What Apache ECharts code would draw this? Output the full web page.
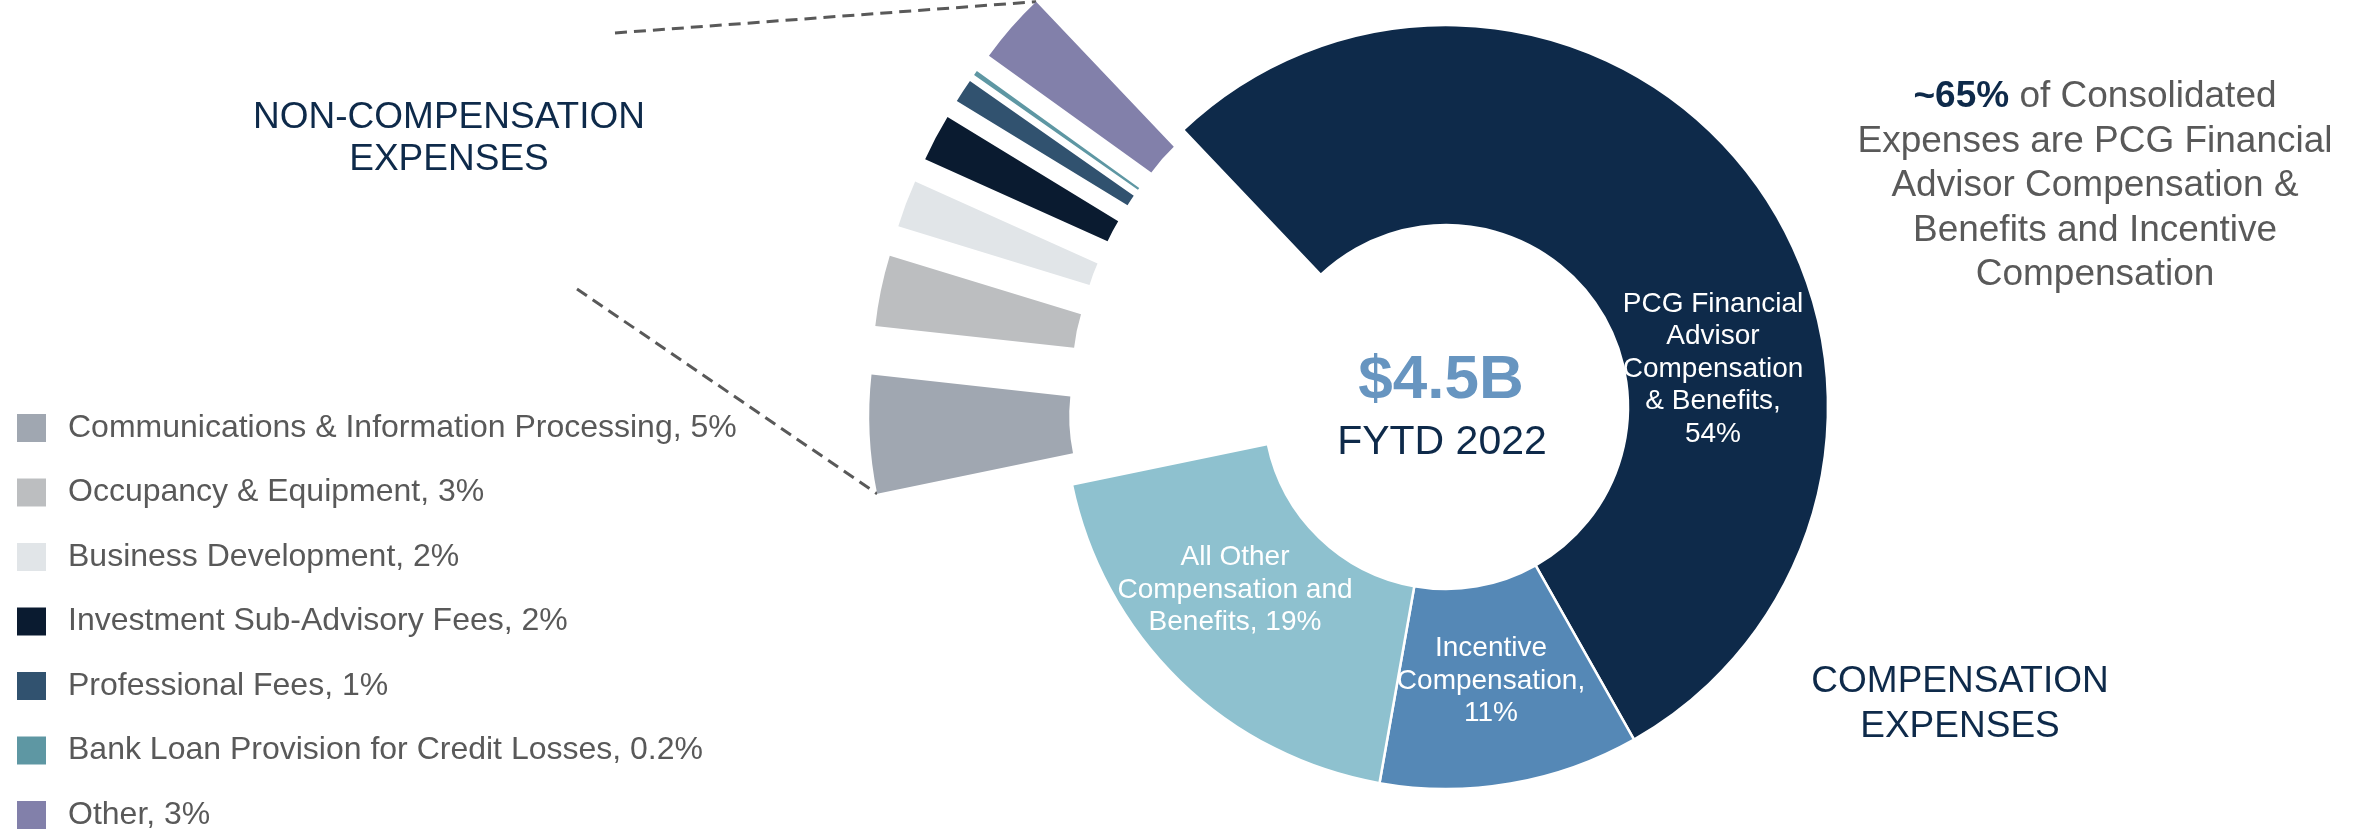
<!DOCTYPE html>
<html>
<head>
<meta charset="utf-8">
<script src="https://cdn.jsdelivr.net/npm/echarts@6/dist/echarts.min.js"></script>
<style>
  html, body { margin: 0; padding: 0; background: #ffffff; }
  #chart { width: 2364px; height: 829px; }
</style>
</head>
<body>
<div id="chart"></div>
<script>
// FYTD 2022 expense mix (% of consolidated expenses)
const categories = [
  'PCG Financial Advisor Compensation & Benefits',
  'Incentive Compensation',
  'All Other Compensation and Benefits',
  'Communications & Information Processing',
  'Occupancy & Equipment',
  'Business Development',
  'Investment Sub-Advisory Fees',
  'Professional Fees',
  'Bank Loan Provision for Credit Losses',
  'Other'
];
const values = [54, 11, 19, 5, 3, 2, 2, 1, 0.2, 3];
const compensationCount = 3;   // first three categories are compensation
const sliceLabels = [
  'PCG Financial\nAdvisor\nCompensation\n& Benefits,\n{v}%',
  'Incentive\nCompensation,\n{v}%',
  'All Other\nCompensation and\nBenefits, {v}%'
];
const colors = ['#0E2A4A', '#5588B6', '#8EC1CF', '#A0A7B1', '#BCBEC0',
                '#E1E5E8', '#0A1B30', '#31526F', '#5E97A3', '#8280AA'];

// ---- layout ----
const FONT = '"Liberation Sans", Arial, Helvetica, sans-serif';
const NAVY = '#0E2A4A';
const GRAY = '#595959';
const CX = 1446, CY = 407, R0 = 182, R1 = 382;
const START = 133.5;      // degrees, counter-clockwise from 3 o'clock
const EXPLODE = 195;      // pull-out distance of the non-compensation slices
const labelSpots = [[1713, 369], [1491, 681], [1235, 590]];

const total = values.reduce((a, b) => a + b, 0);

// start / end angle of slice i (ECharts convention, clockwise layout)
function sliceSpan(i) {
  let a = START;
  for (let k = 0; k < i; k++) a -= values[k] / total * 360;
  return [a, a - values[i] / total * 360];
}
// point on a pulled-out slice at the given angle and radius
function explodedPoint(i, angle, r) {
  const [a0, a1] = sliceSpan(i);
  const mid = (a0 + a1) / 2 * Math.PI / 180;
  const t = angle * Math.PI / 180;
  return [CX + EXPLODE * Math.cos(mid) + r * Math.cos(t),
          CY - EXPLODE * Math.sin(mid) - r * Math.sin(t)];
}

const pieData = categories.map((name, i) => {
  const comp = i < compensationCount;
  return {
    name: name,
    value: values[i],
    selected: !comp,
    itemStyle: {
      color: colors[i],
      borderColor: '#ffffff',
      borderWidth: comp ? 2.5 : 0
    },
    label: { show: comp }
  };
});

const otherIdx = categories.length - 1;
const commsIdx = compensationCount;
const topEnd = explodedPoint(otherIdx, sliceSpan(otherIdx)[1], R1);
const bottomEnd = explodedPoint(commsIdx, sliceSpan(commsIdx)[0], R1);

const chart = echarts.init(document.getElementById('chart'), null, { renderer: 'canvas' });

chart.setOption({
  animation: false,
  backgroundColor: '#ffffff',
  legend: {
    data: categories.slice(compensationCount),
    orient: 'vertical',
    left: 17,
    top: 412,
    height: 460,
    padding: 0,
    icon: 'rect',
    itemWidth: 29,
    itemHeight: 28,
    itemGap: 32.5,
    selectedMode: false,
    formatter: name => name + ', ' + values[categories.indexOf(name)] + '%',
    textStyle: {
      fontFamily: FONT,
      fontSize: 32,
      color: GRAY,
      lineHeight: 28,
      padding: [0, 0, 0, 17]
    }
  },
  series: [{
    type: 'pie',
    center: [CX, CY],
    radius: [R0, R1],
    startAngle: START,
    clockwise: true,
    selectedMode: 'multiple',
    selectedOffset: EXPLODE,
    avoidLabelOverlap: false,
    emphasis: { disabled: true },
    labelLine: { show: false },
    label: {
      position: 'inside',
      color: '#ffffff',
      fontFamily: FONT,
      fontSize: 28,
      lineHeight: 32.5,
      formatter: p => p.dataIndex < compensationCount
        ? sliceLabels[p.dataIndex].replace('{v}', p.value) : ''
    },
    labelLayout: params => {
      const s = labelSpots[params.dataIndex];
      return s ? { x: s[0], y: s[1], align: 'center', verticalAlign: 'middle' } : {};
    },
    data: pieData
  }],
  graphic: [
    {
      type: 'text', x: 1441, y: 381,
      style: {
        text: '$4.5B', fontFamily: FONT, fontSize: 62, fontWeight: 'bold',
        fill: '#6795C0', align: 'center', verticalAlign: 'middle',
        textAlign: 'center', textVerticalAlign: 'middle'
      }
    },
    {
      type: 'text', x: 1442, y: 443,
      style: {
        text: 'FYTD 2022', fontFamily: FONT, fontSize: 41,
        fill: NAVY, align: 'center', verticalAlign: 'middle',
        textAlign: 'center', textVerticalAlign: 'middle'
      }
    },
    {
      type: 'text', x: 449, y: 139,
      style: {
        text: 'NON-COMPENSATION\nEXPENSES', fontFamily: FONT, fontSize: 37,
        lineHeight: 42.5, fill: NAVY, align: 'center', verticalAlign: 'middle',
        textAlign: 'center', textVerticalAlign: 'middle'
      }
    },
    {
      type: 'text', x: 1960, y: 704,
      style: {
        text: 'COMPENSATION\nEXPENSES', fontFamily: FONT, fontSize: 37,
        lineHeight: 45, fill: NAVY, align: 'center', verticalAlign: 'middle',
        textAlign: 'center', textVerticalAlign: 'middle'
      }
    },
    {
      type: 'text', x: 2095, y: 186,
      style: {
        text: '{b|~65%} of Consolidated\nExpenses are PCG Financial\nAdvisor Compensation &\nBenefits and Incentive\nCompensation',
        fontFamily: FONT, fontSize: 37, lineHeight: 44.5, fill: GRAY,
        align: 'center', verticalAlign: 'middle',
        textAlign: 'center', textVerticalAlign: 'middle',
        rich: {
          b: { fontFamily: FONT, fontSize: 37, lineHeight: 44.5, fontWeight: 'bold', fill: NAVY }
        }
      }
    },
    {
      type: 'line',
      shape: { x1: 615, y1: 33, x2: topEnd[0], y2: topEnd[1] },
      style: { stroke: GRAY, lineWidth: 3, lineDash: [12, 7] }
    },
    {
      type: 'line',
      shape: { x1: 577, y1: 289, x2: bottomEnd[0], y2: bottomEnd[1] },
      style: { stroke: GRAY, lineWidth: 3, lineDash: [12, 7] }
    }
  ]
});
</script>
</body>
</html>
